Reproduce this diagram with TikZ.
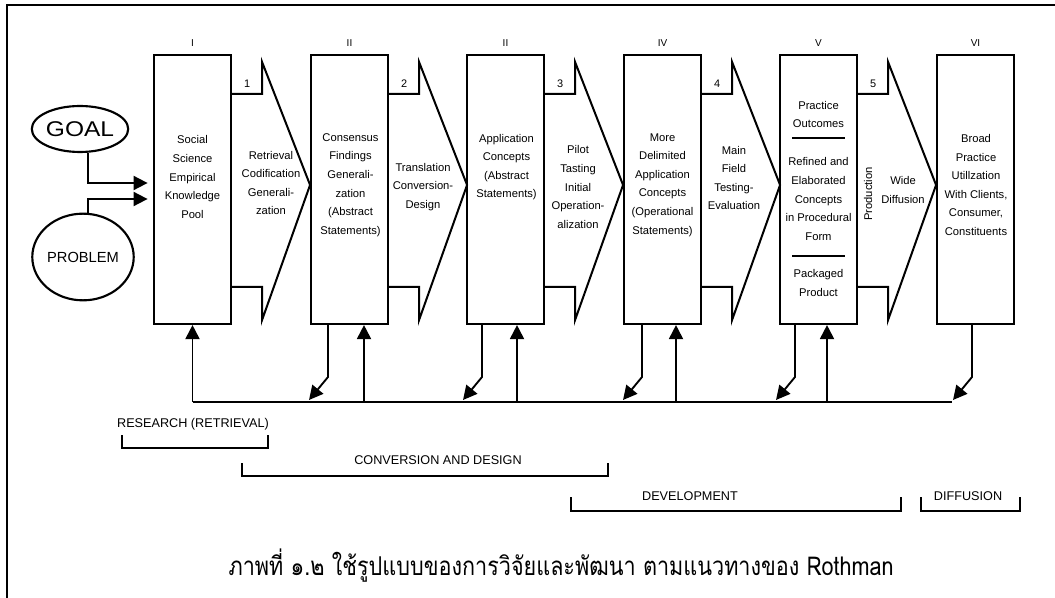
\documentclass[tikz,border=0pt]{standalone}
\usepackage{fontspec}
\usepackage{graphicx}
\setmainfont{Liberation Sans}
\newfontfamily\thaifont[Script=Thai]{Loma}
\usetikzlibrary{arrows.meta,shapes.geometric,calc}
\begin{document}
\begin{tikzpicture}[x=0.75pt,y=-0.75pt,
  box/.style={draw, line width=1.6pt, minimum width=57.75pt, minimum height=201.75pt, inner sep=0pt},
  txt/.style={align=center, font=\fontsize{8.4}{13.9}\selectfont, inner sep=0pt},
  chev/.style={draw, line width=1.5pt, line join=miter},
  arr/.style={line width=1.4pt, -{Triangle[length=10.5pt,width=10.5pt]}},
  ln/.style={line width=1.4pt},
  brk/.style={line width=1.3pt},
  lbl/.style={font=\fontsize{9.5}{11}\selectfont, inner sep=0pt},
  rom/.style={font=\fontsize{7.5}{9}\selectfont, inner sep=0pt},
  num/.style={font=\fontsize{8.2}{10}\selectfont, inner sep=0pt},
  oval/.style={draw, ellipse, line width=1.6pt, inner sep=0pt},
]
\useasboundingbox (0,0) rectangle (1055,598);
% frame
\draw[line width=1.8pt] (1055,5) -- (7,5) -- (7,598);

% boxes
\foreach \i/\x in {1/192.5,2/349.5,3/505.5,4/662.5,5/818.5,6/975.5}
  \node[box] (b\i) at (\x,189.5) {};

% roman labels
\node[rom] (r1) at (192.5,43) {I};
\node[rom] (r2) at (349.5,43) {II};
\node[rom] (r3) at (505.5,43) {II};
\node[rom] (r4) at (662.5,43) {IV};
\node[rom] (r5) at (818.5,43) {V};
\node[rom] (r6) at (975.5,43) {VI};

% chevrons
\foreach \i in {1,...,5}{
  \draw[chev] (b\i.east |- 0,94) -- ++(30,0) -- ++(0,-32) -- ++(48,123) -- ++(-48,135) -- ++(0,-33) -- (b\i.east |- 0,287);
  \node[num] (n\i) at ($(b\i.east |- 0,84)+(15,0)$) {\i};
}

% box texts
\node[txt] (t1) at (192.5,177) {Social\\Science\\Empirical\\Knowledge\\Pool};
\node[txt] (t2) at (350.5,185) {Consensus\\Findings\\Generali-\\zation\\(Abstract\\Statements)};
\node[txt] (t3) at (506.5,167) {Application\\Concepts\\(Abstract\\Statements)};
\node[txt] (t4) at (662.5,185) {More\\Delimited\\Application\\Concepts\\(Operational\\Statements)};
\node[txt] (t5a) at (818.5,114.5) {Practice\\Outcomes};
\node[txt] (t5b) at (818.5,199) {Refined and\\Elaborated\\Concepts\\in Procedural\\Form};
\node[txt] (t5c) at (818.5,283) {Packaged\\Product};
\draw[line width=1.1pt] (792,138) -- (845,138);
\draw[line width=1.1pt] (792,256) -- (845,256);
\node[txt] (t6) at (976,185) {Broad\\Practice\\Utillzation\\With Clients,\\Consumer,\\Constituents};

% chevron texts
\node[txt] (a1) at (271,183) {Retrieval\\Codification\\Generali-\\zation};
\node[txt] (a2) at (423,187) {Translation\\Conversion-\\Design};
\node[txt] (a3) at (578,187) {Pilot\\Tasting\\Initial\\Operation-\\alization};
\node[txt] (a4) at (734,178) {Main\\Field\\Testing-\\Evaluation};
\node[txt, rotate=90] (a5p) at (868,194) {Production};
\node[txt] (a5) at (903,190) {Wide\\Diffusion};

% goal / problem
\node[oval, minimum width=65pt, minimum height=34.5pt, font=\fontsize{16}{18}\selectfont] (goal) at (80,129) {\scalebox{1.15}[1]{GOAL}};
\node[oval, minimum width=67.5pt, minimum height=65pt, font=\fontsize{11}{13}\selectfont] (prob) at (83,257) {PROBLEM};
\draw[arr, shorten >=4pt] ([xshift=6pt]goal.south) |- (b1.west |- 0,183);
\draw[arr, shorten >=4pt] ([xshift=3.75pt]prob.north) |- (b1.west |- 0,199);

% feedback bus
\coordinate (fbL) at (192.5,402);
\coordinate (fbR) at (952,402);
\draw[ln] (fbL) -- (fbR);
\draw[arr] (fbL) -- (b1.south);
\foreach \i/\x in {2/364,3/517,4/676,5/827}
  \draw[arr] (\x,402) -- (b\i.south -| \x,0);
\foreach \i/\x in {2/328,3/482,4/642,5/795,6/972}
  \draw[arr] (b\i.south -| \x,0) -- (\x,377) -- ++(-19,23);

% phase brackets
\node[lbl] (p1) at (193,424) {RESEARCH (RETRIEVAL)};
\draw[brk] (122,435) |- (268,448) -- (268,435);
\node[lbl] (p2) at (438,460) {CONVERSION AND DESIGN};
\draw[brk] (242,463) |- (608,476) -- (608,463);
\node[lbl] (p3) at (690,496) {DEVELOPMENT};
\draw[brk] (571,497) |- (901,511) -- (901,497);
\node[lbl] (p4) at (968,496) {DIFFUSION};
\draw[brk] (921,497) |- (1020,511) -- (1020,497);

% caption
\node[font=\thaifont\fontsize{16.2}{20}\selectfont, inner sep=0pt] (cap) at (561,566) {\scalebox{1}[1.2]{ภาพที่ ๑.๒ ใช้รูปแบบของการวิจัยและพัฒนา ตามแนวทางของ Rothman}};
\end{tikzpicture}
\end{document}
